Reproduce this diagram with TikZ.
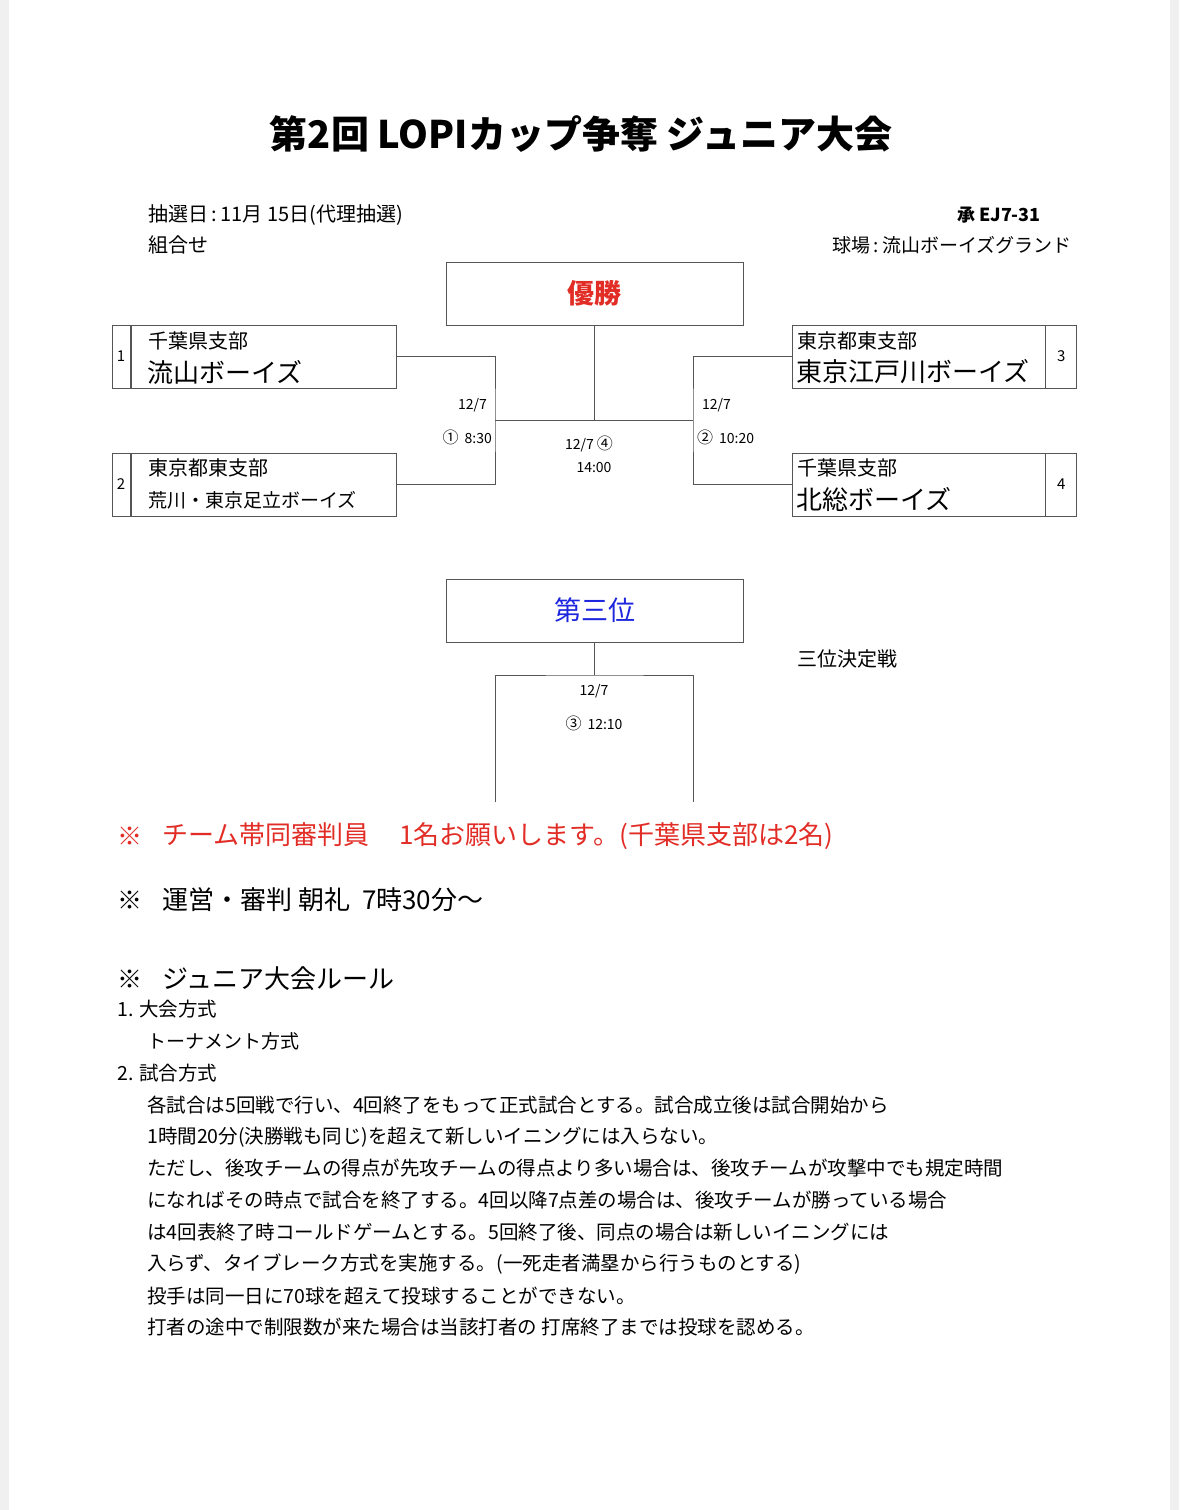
\documentclass[tikz,border=0pt]{standalone}
\usepackage{fontspec}
\setmainfont{Noto Sans CJK JP}
\usetikzlibrary{positioning}
\definecolor{linegray}{RGB}{85,85,85}
\definecolor{cupred}{RGB}{226,45,38}
\definecolor{cupblue}{RGB}{28,38,222}
\definecolor{pageedge}{RGB}{240,240,240}
\newcommand{\fsz}[1]{\fontsize{#1}{#1}\selectfont}

\begin{document}
\begin{tikzpicture}[x=1pt, y=-1pt,
    box/.style={draw=linegray, line width=0.9pt, inner sep=0pt},
    teambox/.style={box, minimum height=63pt},
    numcell/.style={box, minimum height=63pt, font=\fsz{15}},
    wire/.style={draw=linegray, line width=0.9pt},
    txt/.style={anchor=west, inner sep=0pt},
    timelabel/.style={inner sep=0pt, font=\fsz{14}}]
    \useasboundingbox (0,0) rectangle (1179,1510);
    % page
    \fill[pageedge] (0,0) rectangle (1179,1510);
    \fill[white] (9,0) rectangle (1170,1510);

    % Heading
    \node[font=\fsz{38}\bfseries] (title) at (581,134) {第2回 LOPIカップ争奪 ジュニア大会};
    \node[txt, font=\fsz{20}] (draw) at (148,215) {抽選日\,:\,11月 15日(代理抽選)};
    \node[txt, font=\fsz{20}] (kumi) at (148,245) {組合せ};
    \node[anchor=east, inner sep=0pt, font=\fsz{18}\bfseries] (ref) at (1041,215) {承 EJ7-31};
    \node[anchor=east, inner sep=0pt, font=\fsz{19}] (ground) at (1072,245) {球場\,:\,流山ボーイズグランド};

    % Final
    \node[box, minimum width=297pt, minimum height=63pt, text=cupred, font=\fsz{27}\bfseries] (win) at (594.5,293.5) {優勝};

    % Left teams
    \node[teambox, minimum width=265pt] (t1) at (263.5,356.5) {};
    \node[numcell, minimum width=18pt, left=0pt of t1] (n1) {1};
    \node[txt, font=\fsz{20}] (t1a) at (148,341) {千葉県支部};
    \node[txt, font=\fsz{26}] (t1b) at (147,372) {流山ボーイズ};

    \node[teambox, minimum width=265pt] (t2) at (263.5,484.5) {};
    \node[numcell, minimum width=18pt, left=0pt of t2] (n2) {2};
    \node[txt, font=\fsz{20}] (t2a) at (148,468) {東京都東支部};
    \node[txt, font=\fsz{19}] (t2b) at (148,500) {荒川・東京足立ボーイズ};

    % Right teams
    \node[teambox, minimum width=253pt] (t3) at (918.5,356.5) {};
    \node[numcell, minimum width=31pt, right=0pt of t3] (n3) {3};
    \node[txt, font=\fsz{20}] (t3a) at (797,341) {東京都東支部};
    \node[txt, font=\fsz{26}] (t3b) at (796,372) {東京江戸川ボーイズ};

    \node[teambox, minimum width=253pt] (t4) at (918.5,484.5) {};
    \node[numcell, minimum width=31pt, right=0pt of t4] (n4) {4};
    \node[txt, font=\fsz{20}] (t4a) at (797,468) {千葉県支部};
    \node[txt, font=\fsz{26}] (t4b) at (796,499) {北総ボーイズ};

    % Bracket
    \coordinate (m1) at (495,420);
    \coordinate (m2) at (693,420);
    \draw[wire] (t1.east) -| (m1) |- (t2.east);
    \draw[wire] (t3.west) -| (m2) |- (t4.west);
    \draw[wire] (m1) -- (m2);
    \draw[wire] (win.south) -- (win.south |- m1);

    \node[timelabel, anchor=east] (d1) at (487,405) {12/7};
    \node[timelabel, anchor=east] (g1) at (492,437) {{\fsz{16}①}\hspace{6pt}8:30};
    \node[timelabel, anchor=west] (d2) at (702,405) {12/7};
    \node[timelabel, anchor=west] (g2) at (697,437) {{\fsz{16}②}\hspace{6pt}10:20};
    \node[timelabel] (d4) at (589,444) {12/7 {\fsz{16}④}};
    \node[timelabel] (g4) at (594,468) {14:00};

    % Third place
    \node[box, minimum width=297pt, minimum height=63pt, text=cupblue, font=\fsz{27}] (third) at (594.5,610.5) {第三位};
    \node[txt, font=\fsz{20}] (playoff) at (797,659) {三位決定戦};
    \coordinate (m3) at (594.5,675);
    \coordinate (f1) at (495,802);
    \coordinate (f2) at (693,802);
    \draw[wire] (third.south) -- (m3);
    \draw[wire] (f1) |- (m3) -| (f2);
    \node[timelabel] (d3) at (594,691) {12/7};
    \node[timelabel] (g3) at (594,723) {{\fsz{16}③}\hspace{6pt}12:10};

    % Notes
    \node[txt, font=\fsz{25}, text=cupred] (k1) at (117,836) {※};
    \node[txt, font=\fsz{26}, text=cupred] (note1) at (162,836) {チーム帯同審判員\hspace{30pt}1名お願いします。(千葉県支部は2名)};
    \node[txt, font=\fsz{25}] (k2) at (117,900) {※};
    \node[txt, font=\fsz{26}] (note2) at (162,900) {運営・審判 朝礼\hspace{12pt}7時30分～};
    \node[txt, font=\fsz{25}] (k3) at (117,979) {※};
    \node[txt, font=\fsz{26}] (note3) at (162,979) {ジュニア大会ルール};

    % Rules
    \node[txt, font=\fsz{19.5}] (h1) at (117,1009) {1.\hspace{6pt}大会方式};
    \node[txt, font=\fsz{19}] (h1a) at (147,1041) {トーナメント方式};
    \node[txt, font=\fsz{19.5}] (h2) at (117,1073) {2.\hspace{6pt}試合方式};
    \node[txt, font=\fsz{19.5}] (r1) at (147,1105) {各試合は5回戦で行い、4回終了をもって正式試合とする。試合成立後は試合開始から};
    \node[txt, font=\fsz{19.5}] (r2) at (147,1137) {1時間20分(決勝戦も同じ)を超えて新しいイニングには入らない。};
    \node[txt, font=\fsz{19.5}] (r3) at (147,1168) {ただし、後攻チームの得点が先攻チームの得点より多い場合は、後攻チームが攻撃中でも規定時間};
    \node[txt, font=\fsz{19.5}] (r4) at (147,1200) {になればその時点で試合を終了する。4回以降7点差の場合は、後攻チームが勝っている場合};
    \node[txt, font=\fsz{19.5}] (r5) at (147,1232) {は4回表終了時コールドゲームとする。5回終了後、同点の場合は新しいイニングには};
    \node[txt, font=\fsz{19.5}] (r6) at (147,1264) {入らず、タイブレーク方式を実施する。(一死走者満塁から行うものとする)};
    \node[txt, font=\fsz{19.5}] (r7) at (147,1296) {投手は同一日に70球を超えて投球することができない。};
    \node[txt, font=\fsz{19.5}] (r8) at (147,1327) {打者の途中で制限数が来た場合は当該打者の 打席終了までは投球を認める。};
\end{tikzpicture}
\end{document}
